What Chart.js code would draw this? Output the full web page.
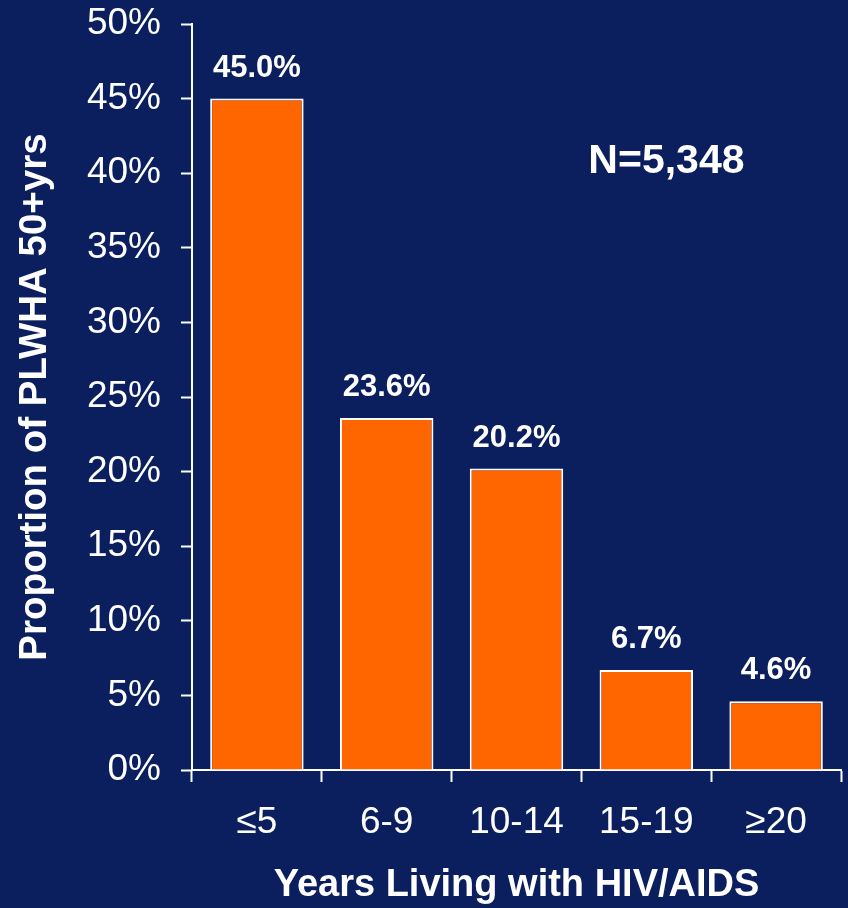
<!DOCTYPE html>
<html>
<head>
<meta charset="utf-8">
<script src="https://cdn.jsdelivr.net/npm/chart.js@4/dist/chart.umd.min.js"></script>
<style>
  html, body { margin: 0; padding: 0; background: #0b1f5f; }
  #wrap { width: 848px; height: 908px; }
</style>
</head>
<body>
<div id="wrap"><canvas id="c" width="848" height="908"></canvas></div>
<script>
// Years living with HIV/AIDS among PLWHA aged 50+
const categories = ['≤5', '6-9', '10-14', '15-19', '≥20'];
const proportions = [45.0, 23.6, 20.2, 6.7, 4.6];
const yTicks = [0, 5, 10, 15, 20, 25, 30, 35, 40, 45, 50];
const sampleNote = 'N=5,348';

const NAVY = '#0b1f5f';
const ORANGE = '#ff6600';
const WHITE = '#ffffff';
const FONT = '"Liberation Sans", Arial, Helvetica, sans-serif';

const backgroundPlugin = {
  id: 'navyBackground',
  beforeDraw(chart) {
    const ctx = chart.ctx;
    ctx.save();
    ctx.fillStyle = NAVY;
    ctx.fillRect(0, 0, chart.width, chart.height);
    ctx.restore();
  }
};

const valueLabelPlugin = {
  id: 'valueLabels',
  afterDatasetsDraw(chart) {
    const ctx = chart.ctx;
    const meta = chart.getDatasetMeta(0);
    ctx.save();
    ctx.fillStyle = WHITE;
    ctx.font = 'bold 31px ' + FONT;
    ctx.textAlign = 'center';
    ctx.textBaseline = 'alphabetic';
    meta.data.forEach((bar, i) => {
      ctx.fillText(proportions[i].toFixed(1) + '%', bar.x, bar.y - 22);
    });
    // sample size note
    const area = chart.chartArea;
    ctx.font = 'bold 41px ' + FONT;
    ctx.fillText(sampleNote, area.left + (area.right - area.left) * 0.731, area.top + 149);
    ctx.restore();
  }
};

new Chart(document.getElementById('c'), {
  type: 'bar',
  data: {
    labels: categories,
    datasets: [{
      data: proportions,
      backgroundColor: ORANGE,
      borderColor: WHITE,
      borderWidth: 2,
      borderSkipped: 'bottom',
      barPercentage: 0.72,
      categoryPercentage: 1.0
    }]
  },
  options: {
    responsive: false,
    animation: false,
    devicePixelRatio: 1,
    layout: { padding: { top: 24, right: 7, left: 0, bottom: 0 } },
    plugins: {
      legend: { display: false },
      tooltip: { enabled: false }
    },
    scales: {
      x: {
        offset: true,
        grid: {
          display: true,
          offset: true,
          drawOnChartArea: false,
          drawTicks: true,
          tickLength: 12,
          tickWidth: 2,
          tickColor: WHITE,
          color: WHITE
        },
        border: { display: true, color: WHITE, width: 2 },
        ticks: {
          color: WHITE,
          font: { family: FONT, size: 37 },
          padding: 19,
          maxRotation: 0,
          autoSkip: false
        },
        title: {
          display: true,
          text: 'Years Living with HIV/AIDS',
          color: WHITE,
          font: { family: FONT, size: 38, weight: 'bold', lineHeight: 1.2 },
          padding: { top: 0, bottom: 0 }
        },
        afterFit(scale) {
          scale.height = 138;
          scale.paddingLeft = 0;
          scale.paddingRight = 0;
        }
      },
      y: {
        min: 0,
        max: 50,
        afterBuildTicks(scale) {
          scale.ticks = yTicks.map(v => ({ value: v }));
        },
        grid: {
          display: true,
          drawOnChartArea: false,
          drawTicks: true,
          tickLength: 11,
          tickWidth: 2,
          tickColor: WHITE,
          color: WHITE
        },
        border: { display: true, color: WHITE, width: 2 },
        ticks: {
          color: WHITE,
          font: { family: FONT, size: 37 },
          padding: 20,
          callback: v => v + '%'
        },
        title: {
          display: true,
          text: 'Proportion of PLWHA 50+yrs',
          color: WHITE,
          font: { family: FONT, size: 38.5, weight: 'bold', lineHeight: 1.2 },
          padding: { top: 12, bottom: 0 }
        },
        afterFit(scale) {
          scale.width = 192;
          scale.paddingTop = 0;
          scale.paddingBottom = 0;
        }
      }
    }
  },
  plugins: [backgroundPlugin, valueLabelPlugin]
});
</script>
</body>
</html>
